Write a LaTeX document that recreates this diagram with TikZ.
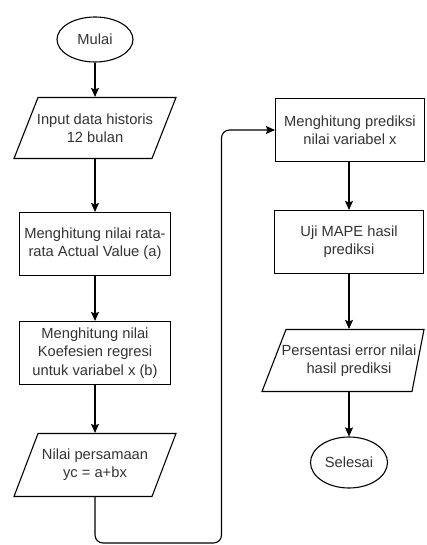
\documentclass[tikz,border=0pt]{standalone}
\usepackage{fontspec}
\setmainfont{Liberation Sans}
\usetikzlibrary{arrows.meta,shapes.geometric}
\begin{document}
\begin{tikzpicture}[x=1pt,y=-1pt,
  line width=1.1pt,
  txt/.style={align=center,text=black!80,font=\fontsize{14.7}{18.3}\selectfont,inner sep=0pt},
  boxnode/.style={txt,draw,minimum width=151pt,minimum height=63pt},
  termnode/.style={txt,draw,ellipse,inner sep=0pt},
  ionode/.style={txt,minimum width=120pt},
  arr/.style={-{Stealth[length=9pt,width=8pt,inset=1.5pt]}}]
\useasboundingbox (0,0) rectangle (426,545);
% left column
\node[termnode,minimum width=76pt,minimum height=45pt] (M) at (95,39.5) {Mulai};
\draw (38,97.5) -- (176,97.5) -- (152,158.5) -- (14,158.5) -- cycle;
\node[ionode,minimum height=61pt] (P1) at (95,128) {Input data historis\\12 bulan};
\node[boxnode] (R1) at (95,244) {Menghitung nilai rata-\\rata Actual Value (a)};
\node[boxnode] (R2) at (95,353) {Menghitung nilai\\Koefesien regresi\\untuk variabel x (b)};
\draw (38,433.5) -- (176,433.5) -- (152,496.5) -- (14,496.5) -- cycle;
\node[ionode,minimum height=63pt] (P2) at (95,465) {Nilai persamaan\\yc = a+bx};
% right column
\node[boxnode,minimum width=149pt] (R3) at (350,130) {Menghitung prediksi\\nilai variabel x};
\node[boxnode,minimum width=149pt] (R4) at (349,242) {Uji MAPE hasil\\prediksi};
\draw (286,329.5) -- (424,329.5) -- (412,391.5) -- (262,391.5) -- cycle;
\node[ionode,minimum height=62pt] (P3) at (349,360.5) {Persentasi error nilai\\hasil prediksi};
\node[termnode,minimum width=77pt,minimum height=51pt] (S) at (349,462.5) {Selesai};
% connectors
\coordinate (cB) at (221.5,543);
\draw[arr] (M.south) -- (P1.north);
\draw[arr] (P1.south) -- (R1.north);
\draw[arr] (R1.south) -- (R2.north);
\draw[arr] (R2.south) -- (P2.north);
\draw[arr,rounded corners=8pt] (P2.south) |- (cB) |- (R3.west);
\draw[arr] (R3.south -| R4.north) -- (R4.north);
\draw[arr] (R4.south) -- (P3.north);
\draw[arr] (P3.south) -- (S.north);
\end{tikzpicture}
\end{document}
